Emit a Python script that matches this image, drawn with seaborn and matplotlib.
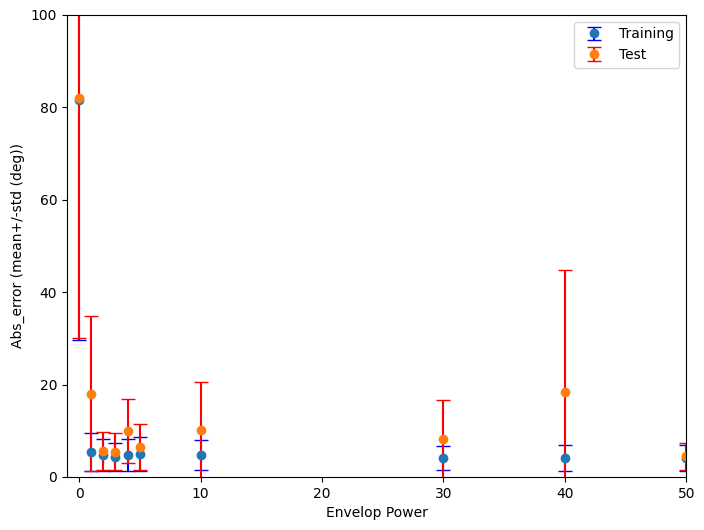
import numpy as np
import matplotlib
matplotlib.use("Agg")
import matplotlib.pyplot as plt
import seaborn as sns

# envelop power values
powers = [0, 1, 2, 3, 4, 5, 10, 30, 40, 50]

# abs error stats, training set
train_mean = [81.5, 5.4, 4.8, 4.4, 4.8, 5.0, 4.8, 4.1, 4.1, 4.1]
train_std = [51.9, 4.1, 3.4, 3.0, 3.4, 3.6, 3.3, 2.6, 2.8, 2.8]

# abs error stats, test set
test_mean = [82.0, 18.0, 5.6, 5.5, 10.0, 6.5, 10.2, 8.2, 18.4, 4.5]
test_std = [52.0, 16.8, 4.1, 4.0, 6.9, 4.9, 10.4, 8.4, 26.4, 2.9]

colors = sns.color_palette()

fig, ax = plt.subplots(figsize=(7.04, 5.3), dpi=100)
ax.errorbar(powers, train_mean, yerr=train_std, fmt='o', color=colors[0],
            ecolor='b', capsize=5, label='Training')
ax.errorbar(powers, test_mean, yerr=test_std, fmt='o', color=colors[1],
            ecolor='r', capsize=5, label='Test')
ax.set_xlim(-1, 50)
ax.set_ylim(0, 100)
ax.set_xlabel('Envelop Power')
ax.set_ylabel('Abs_error (mean+/-std (deg))')
ax.legend(loc='upper right')
plt.subplots_adjust(left=0.095, right=0.975, bottom=0.1, top=0.972)
plt.savefig('out.png')
